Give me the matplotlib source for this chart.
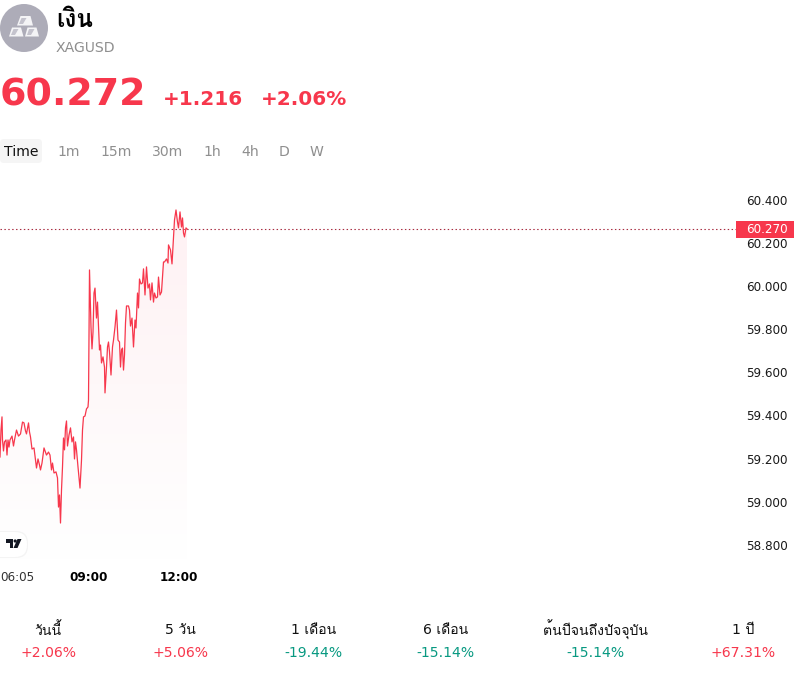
import matplotlib
matplotlib.use("Agg")
import matplotlib.pyplot as plt
import numpy as np
from matplotlib import font_manager as fm
from matplotlib.colors import LinearSegmentedColormap
from matplotlib.patches import Circle, FancyBboxPatch, Polygon, Rectangle
from matplotlib.ft2font import FT2Font
from matplotlib.ticker import FixedLocator, FuncFormatter
from matplotlib.transforms import Affine2D

# Price history, minutes after midnight
minutes = [362, 364, 366, 367, 369, 371, 374, 376, 378, 380, 382, 386, 389, 391, 395, 399, 403, 407, 410, 413,
           415, 419, 421, 423, 426, 430, 433, 435, 438, 441, 443, 446, 450, 453, 455, 459, 462, 465, 467, 470,
           474, 477, 479, 481, 483, 485, 487, 489, 491, 493, 495, 497, 500, 503, 506, 509, 511, 513, 515, 518,
           522, 525, 527, 529, 532, 535, 538, 539, 541, 544, 546, 548, 550, 552, 555, 557, 560, 561, 563, 565,
           568, 571, 572, 575, 577, 579, 581, 584, 587, 589, 592, 595, 598, 601, 603, 605, 607, 609, 611, 613,
           615, 619, 621, 623, 626, 629, 632, 634, 637, 639, 641, 644, 647, 649, 652, 655, 658, 661, 663, 666,
           669, 671, 674, 677, 679, 682, 685, 687, 689, 691, 695, 698, 699, 703, 706, 709, 711, 714, 717, 719,
           722, 725, 727, 729, 731, 734, 736]
prices = [59.213, 59.338, 59.399, 59.292, 59.241, 59.283, 59.292, 59.222, 59.292, 59.259, 59.292, 59.310, 59.264,
          59.292, 59.338, 59.310, 59.320, 59.375, 59.371, 59.334, 59.320, 59.371, 59.329, 59.306, 59.250, 59.255,
          59.199, 59.162, 59.204, 59.176, 59.153, 59.185, 59.255, 59.236, 59.222, 59.236, 59.222, 59.153, 59.185,
          59.139, 59.144, 59.116, 58.981, 59.037, 58.907, 59.060, 59.167, 59.301, 59.246, 59.348, 59.380, 59.264,
          59.315, 59.348, 59.283, 59.306, 59.204, 59.283, 59.246, 59.167, 59.069, 59.199, 59.338, 59.399, 59.403,
          59.436, 59.445, 59.477, 60.080, 59.816, 59.714, 59.792, 59.973, 59.996, 59.857, 59.931, 59.769, 59.709,
          59.732, 59.649, 59.677, 59.630, 59.510, 59.630, 59.723, 59.746, 59.700, 59.593, 59.723, 59.755, 59.816,
          59.894, 59.755, 59.746, 59.630, 59.709, 59.718, 59.616, 59.686, 59.834, 59.913, 59.913, 59.894, 59.820,
          59.857, 59.723, 59.848, 59.811, 59.973, 59.904, 60.038, 60.015, 60.020, 60.085, 59.964, 60.094, 59.996,
          60.015, 59.941, 60.020, 59.931, 59.973, 59.950, 59.955, 60.047, 59.964, 59.978, 60.047, 60.117, 60.117,
          60.131, 60.112, 60.196, 60.173, 60.108, 60.228, 60.312, 60.358, 60.302, 60.275, 60.349, 60.279, 60.321,
          60.251, 60.233, 60.275, 60.270]
price_ticks = [58.8, 59.0, 59.2, 59.4, 59.6, 59.8, 60.0, 60.2, 60.4]
time_ticks = [363, 540, 720]
time_labels = ["06:05", "09:00", "12:00"]
last_price = 60.270

name = "เงิน"
symbol = "XAGUSD"
quote = "60.272"
change = "+1.216"
change_pct = "+2.06%"
intervals = ["Time", "1m", "15m", "30m", "1h", "4h", "D", "W"]
periods = ["วันนี้", "5 วัน", "1 เดือน", "6 เดือน", "ต้นปีจนถึงปัจจุบัน", "1 ปี"]
returns = ["+2.06%", "+5.06%", "-19.44%", "-15.14%", "-15.14%", "+67.31%"]

RED = "#f7374c"
GREEN = "#089981"
GREY = "#8f8f8f"
W, H = 800, 673


def thai_families():
    """Installed families that carry Thai glyphs, used after DejaVu Sans."""
    found = []
    for entry in fm.fontManager.ttflist:
        try:
            if (0x0E40 in FT2Font(entry.fname).get_charmap()
                    and entry.name not in found and entry.name != "DejaVu Sans"):
                found.append(entry.name)
        except Exception:
            pass
    return found


plt.rcParams["font.family"] = ["DejaVu Sans"] + thai_families()
fig = plt.figure(figsize=(W / 100, H / 100), dpi=100, facecolor="white")


def rect(x0, y0, x1, y1):
    return [x0 / W, 1 - y1 / H, (x1 - x0) / W, (y1 - y0) / H]


# Price pane
ax = fig.add_axes(rect(0, 190, 736, 560))
xlim = (362, 362 + 2 * 736)
ylim = (61.3312 - 0.004635 * 560, 61.3312 - 0.004635 * 190)
for s in ax.spines.values():
    s.set_visible(False)

fade = LinearSegmentedColormap.from_list("fade", ["#ffffff", "#fef1f3"])
band = ax.fill_between(minutes, prices, ylim[0], color="none")
img = ax.imshow(np.linspace(1, 0, 256).reshape(-1, 1), cmap=fade, aspect="auto",
                extent=[minutes[0], minutes[-1], ylim[0], max(prices)], zorder=1)
img.set_clip_path(band.get_paths()[0], transform=ax.transData)
ax.set_xlim(*xlim)
ax.set_ylim(*ylim)

ax.plot(minutes, prices, color=RED, lw=0.9, zorder=3, solid_joinstyle="round")
ax.axhline(last_price, color="#a82b40", lw=0.8, dashes=(1.3, 2.2), zorder=2)

ax.yaxis.tick_right()
ax.yaxis.set_major_locator(FixedLocator(price_ticks))
ax.yaxis.set_major_formatter(FuncFormatter(lambda v, _: f"{v:.3f}"))
ax.tick_params(axis="y", length=0, pad=7.2, labelsize=8.64, labelcolor="#1a1a1a")
for tick in ax.yaxis.get_major_ticks():
    tick.label2.set_transform(tick.label2.get_transform() + Affine2D().translate(0, 1.2))
ax.xaxis.set_major_locator(FixedLocator(time_ticks))
ax.set_xticklabels(time_labels)
ax.tick_params(axis="x", length=0, pad=8, labelsize=8.64)
tick_texts = ax.get_xticklabels()
tick_texts[0].set_ha("left")
tick_texts[0].set_color("#333333")
for t in tick_texts[1:]:
    t.set_fontweight("bold")
    t.set_color("#000000")

# Header, tabs, footer and badges share a pixel-addressed overlay
ov = fig.add_axes([0, 0, 1, 1], facecolor="none", zorder=5)
ov.set_xlim(0, W)
ov.set_ylim(H, 0)
ov.axis("off")

ov.add_patch(Circle((24, 28), 24, fc="#adacb8", ec="none"))
bars = [[(17, 25.5), (33, 25.5), (30.5, 16), (20.5, 16)],
        [(9, 36.5), (23.5, 36.5), (21, 27.5), (12, 27.5)],
        [(25, 36.5), (39, 36.5), (36.5, 27.5), (27.5, 27.5)]]
faces = [[(19, 24), (23, 24), (26.5, 18), (21.5, 18)],
         [(11, 35), (15, 35), (18.5, 29), (13.5, 29)],
         [(27, 35), (31, 35), (34.5, 29), (29, 29)]]
for b in bars:
    ov.add_patch(Polygon(b, fc="#f4f4f6", ec="none"))
for f in faces:
    ov.add_patch(Polygon(f, fc="#c4c3cd", ec="none"))

ov.text(56, 20, name, fontsize=17.5, fontweight="bold", color="black", va="center", ha="left")
ov.text(56, 47.7, symbol, fontsize=10.08, color=GREY, va="center", ha="left")
ov.text(0, 95.5, quote, fontsize=27.4, fontweight="bold", color=RED, va="center", ha="left")
ov.text(163, 99.7, change, fontsize=14.4, fontweight="bold", color=RED, va="center", ha="left")
ov.text(261, 99.7, change_pct, fontsize=14.4, fontweight="bold", color=RED, va="center", ha="left")

ov.add_patch(FancyBboxPatch((3, 142), 36, 18, boxstyle="round,pad=3,rounding_size=4", fc="#f5f5f5", ec="none"))
tab_x = [3.5, 57.5, 100, 152, 203.5, 241, 279, 309.5]
for i, (label, x) in enumerate(zip(intervals, tab_x)):
    ov.text(x, 151.7, label, fontsize=10.08, color="#111111" if i == 0 else GREY, va="center", ha="left")

# Last-price tag on the scale
ov.add_patch(Rectangle((736, 221), 58, 17, fc=RED, ec="none"))
ov.text(746, 229.5, f"{last_price:.3f}", fontsize=8.64, color="white", va="center", ha="left")

# Chart vendor badge
ov.add_patch(FancyBboxPatch((-14, 531), 42, 27, boxstyle="round,pad=0,rounding_size=12", fc="#f4f4f4", ec="none"))
ov.add_patch(FancyBboxPatch((-14, 532), 41, 25, boxstyle="round,pad=0,rounding_size=12", fc="white", ec="none"))
ov.add_patch(Polygon([(6, 539), (13, 539), (13, 548), (9.5, 548), (9.5, 542.5), (6, 542.5)], fc="#131722", ec="none"))
ov.add_patch(Circle((15.2, 541), 1.6, fc="#131722", ec="none"))
ov.add_patch(Polygon([(21.5, 539), (17.5, 548), (13.5, 548), (17.5, 539)], fc="#131722", ec="none"))

# Return summary row
centers = [48, 180.5, 313.5, 445.5, 595, 743.5]
for label, value, x in zip(periods, returns, centers):
    ov.text(x, 630, label, fontsize=10.08, color="#111111", va="center", ha="center")
    ov.text(x, 653, value, fontsize=10.08, color=RED if value.startswith("+") else GREEN, va="center", ha="center")

fig.savefig("out.png", dpi=100)
